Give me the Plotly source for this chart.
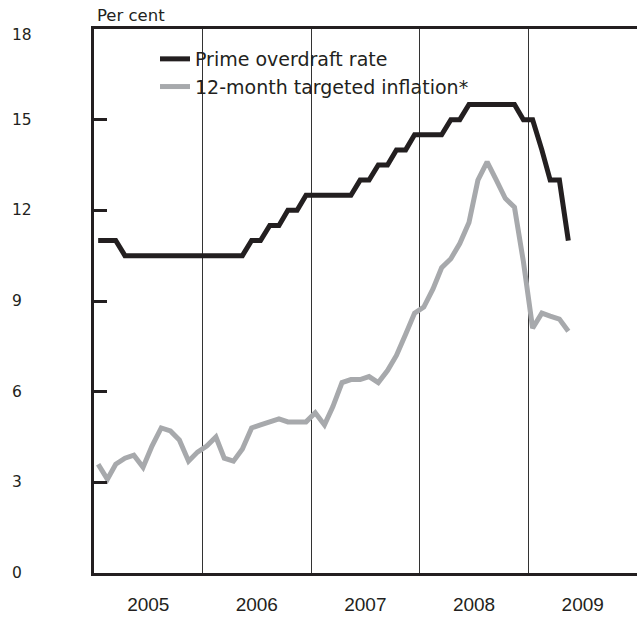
import plotly.graph_objects as go
import pandas as pd

months = pd.date_range("2005-01-01", periods=53, freq="MS") + pd.Timedelta(days=14)

prime_rate = [11, 11, 11, 10.5, 10.5, 10.5, 10.5, 10.5, 10.5, 10.5, 10.5, 10.5,
              10.5, 10.5, 10.5, 10.5, 10.5, 11, 11, 11.5, 11.5, 12, 12, 12.5,
              12.5, 12.5, 12.5, 12.5, 12.5, 13, 13, 13.5, 13.5, 14, 14, 14.5,
              14.5, 14.5, 14.5, 15, 15, 15.5, 15.5, 15.5, 15.5, 15.5, 15.5, 15,
              15, 14, 13, 13, 11]
inflation = [3.6, 3.1, 3.6, 3.8, 3.9, 3.5, 4.2, 4.8, 4.7, 4.4, 3.7, 4.0,
             4.2, 4.5, 3.8, 3.7, 4.1, 4.8, 4.9, 5.0, 5.1, 5.0, 5.0, 5.0,
             5.3, 4.9, 5.5, 6.3, 6.4, 6.4, 6.5, 6.3, 6.7, 7.2, 7.9, 8.6,
             8.8, 9.4, 10.1, 10.4, 10.9, 11.6, 13.0, 13.6, 13.0, 12.4, 12.1, 10.3,
             8.1, 8.6, 8.5, 8.4, 8.0]
y_ticks = [0, 3, 6, 9, 12, 15, 18]
series_names = ["Prime overdraft rate", "12-month targeted inflation*"]

SANS = "DejaVu Sans, sans-serif"
ARIAL = "Liberation Sans, Arial, sans-serif"
TXT = "#231f20"

W, H = 638, 618
L, R, T, B = 94, 1, 29, 45
PW, PH = W - L - R, H - T - B


def px(xf):
    return (xf - L) / PW


def py(yf):
    return 1 - (yf - T) / PH


fig = go.Figure()
fig.add_trace(go.Scatter(x=months, y=prime_rate, mode="lines", name=series_names[0],
                         line=dict(color="#231f20", width=5), hoverinfo="skip"))
fig.add_trace(go.Scatter(x=months, y=inflation, mode="lines", name=series_names[1],
                         line=dict(color="#a7a9ac", width=5), hoverinfo="skip"))

fig.update_layout(
    width=W, height=H,
    margin=dict(l=L, r=R, t=T, b=B),
    paper_bgcolor="white", plot_bgcolor="white",
    font=dict(family=SANS, color=TXT),
    showlegend=True,
    hovermode=False,
    legend=dict(x=px(155), y=py(40), xanchor="left", yanchor="top",
                bgcolor="rgba(0,0,0,0)", borderwidth=0,
                font=dict(size=19, color=TXT, family=SANS), tracegroupgap=0),
)
# white panel behind the legend hides the year gridlines (above grid, below traces)
fig.add_shape(type="rect", xref="paper", yref="paper",
              x0=px(150), x1=px(475), y0=py(100), y1=py(47),
              fillcolor="white", line=dict(width=0), layer="between")

fig.update_xaxes(
    type="date", range=["2005-01-01", "2010-01-01"],
    dtick="M12", tick0="2005-01-01", ticklabelmode="period",
    tickformat="%Y", ticks="", showgrid=True, gridcolor="#333333", gridwidth=1,
    showline=True, linecolor="#231f20", linewidth=3, mirror=True,
    tickfont=dict(size=19, color=TXT, family=ARIAL), ticklabelstandoff=12,
)
fig.update_yaxes(
    range=[0, 18], tickvals=y_ticks, showticklabels=False,
    ticks="inside", ticklen=13, tickwidth=3, tickcolor="#231f20",
    showgrid=False, zeroline=False,
    showline=True, linecolor="#231f20", linewidth=3,
)
for v in y_ticks:
    fig.add_annotation(x=px(10), xref="paper", y=v, yref="y",
                       text=str(v), showarrow=False, xanchor="left", yanchor="middle",
                       yshift=-6 if v == y_ticks[-1] else 0,
                       font=dict(size=15.5, color=TXT, family=SANS))
fig.add_annotation(x=px(95), xref="paper", y=py(15), yref="paper",
                   text="Per cent", showarrow=False, xanchor="left", yanchor="middle",
                   font=dict(size=16.5, color=TXT, family=SANS))

# the page's default 8px body margin is removed so the figure fills the window exactly
fig.write_html("out.html", config={"displayModeBar": False},
               post_script="document.body.style.margin='0';")
